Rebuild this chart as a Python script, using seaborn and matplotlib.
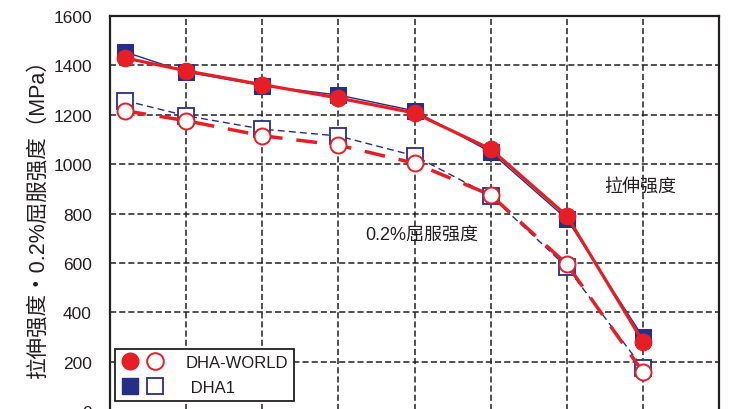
import matplotlib
matplotlib.use('Agg')
import matplotlib.pyplot as plt
from matplotlib.lines import Line2D
from matplotlib.legend_handler import HandlerTuple
import pandas as pd
import seaborn as sns

# ── Data ──────────────────────────────────────────────────────────────────────
temps = [20, 100, 200, 300, 400, 500, 600, 700]

world_tensile = [1430, 1378, 1322, 1268, 1207, 1061, 791, 281]
world_yield   = [1216, 1176, 1115, 1077, 1004, 875, 595, 158]
dha1_tensile  = [1454, 1373, 1318, 1280, 1216, 1049, 778, 300]
dha1_yield    = [1257, 1196, 1142, 1114, 1034, 872, 583, 174]

series_labels = ['DHA-WORLD', ' DHA1']
y_ticks = [0, 200, 400, 600, 800, 1000, 1200, 1400, 1600]

RED  = '#e61e25'
BLUE = '#262e87'
INK  = '#231f20'

sns.set_theme(style='white')
plt.rcParams['font.family'] = ['Liberation Sans', 'Noto Sans CJK SC', 'DejaVu Sans']

df = pd.DataFrame({
    'temp': temps,
    'world_tensile': world_tensile,
    'world_yield': world_yield,
    'dha1_tensile': dha1_tensile,
    'dha1_yield': dha1_yield,
})

fig = plt.figure(figsize=(7.31, 4.10), dpi=100)
ax = fig.add_axes([0.1505, -0.0049, 0.8331, 0.9634])

# blue (DHA1) first so red sits on top
sns.lineplot(data=df, x='temp', y='dha1_yield', ax=ax, color=BLUE, lw=1.0,
             linestyle=(0, (5, 3)), marker='s', markersize=11,
             markerfacecolor='white', markeredgecolor=BLUE, markeredgewidth=1.3, zorder=3)
sns.lineplot(data=df, x='temp', y='dha1_tensile', ax=ax, color=BLUE, lw=1.0,
             marker='s', markersize=11, markerfacecolor=BLUE,
             markeredgecolor=BLUE, zorder=3)
sns.lineplot(data=df, x='temp', y='world_yield', ax=ax, color=RED, lw=2.5,
             linestyle=(0, (6, 4)), marker='o', markersize=11.5,
             markerfacecolor='white', markeredgecolor=RED, markeredgewidth=1.4, zorder=4)
sns.lineplot(data=df, x='temp', y='world_tensile', ax=ax, color=RED, lw=2.3,
             marker='o', markersize=12, markerfacecolor=RED,
             markeredgecolor=RED, zorder=4)

ax.set_xlim(0, 800)
ax.set_ylim(0, 1600)
ax.set_xticks(range(0, 801, 100))
ax.set_xticklabels([])   # x labels lie below the cropped picture
ax.set_yticks(y_ticks)
ax.set_xlabel('')
ax.set_ylabel('拉伸强度・0.2%屈服强度（MPa）', fontsize=15.5, color=INK, labelpad=3)
ax.tick_params(axis='y', labelsize=12.5, colors=INK, direction='in', length=0, pad=13)
ax.tick_params(axis='x', direction='in', length=0)

ax.grid(True, color=INK, linestyle=(0, (4, 2)), linewidth=1.1)
ax.set_axisbelow(True)
for sp in ax.spines.values():
    sp.set_color(INK)
    sp.set_linewidth(1.6)

ax.text(697, 911, '拉伸强度', fontsize=13, color=INK, ha='center', va='center')
ax.text(410, 717, '0.2%屈服强度', fontsize=13, color=INK, ha='center', va='center')

# legend: filled + open marker pairs
h_world = (Line2D([], [], ls='none', marker='o', markersize=12, color=RED),
           Line2D([], [], ls='none', marker='o', markersize=12, markerfacecolor='white',
                  markeredgecolor=RED, markeredgewidth=1.4))
h_dha1 = (Line2D([], [], ls='none', marker='s', markersize=11, color=BLUE),
          Line2D([], [], ls='none', marker='s', markersize=11, markerfacecolor='white',
                 markeredgecolor=BLUE, markeredgewidth=1.3))
leg = ax.legend([h_world, h_dha1], series_labels,
                handler_map={tuple: HandlerTuple(ndivide=None, pad=0.4)},
                loc='lower left', bbox_to_anchor=(0.008, 0.025), borderaxespad=0,
                fontsize=12, handlelength=2.6, handletextpad=1.3, labelspacing=0.6,
                frameon=True, fancybox=False, framealpha=1, edgecolor=INK,
                borderpad=0.35)
leg.get_frame().set_linewidth(1.3)
for t in leg.get_texts():
    t.set_color(INK)

fig.savefig('out.png', dpi=100)
